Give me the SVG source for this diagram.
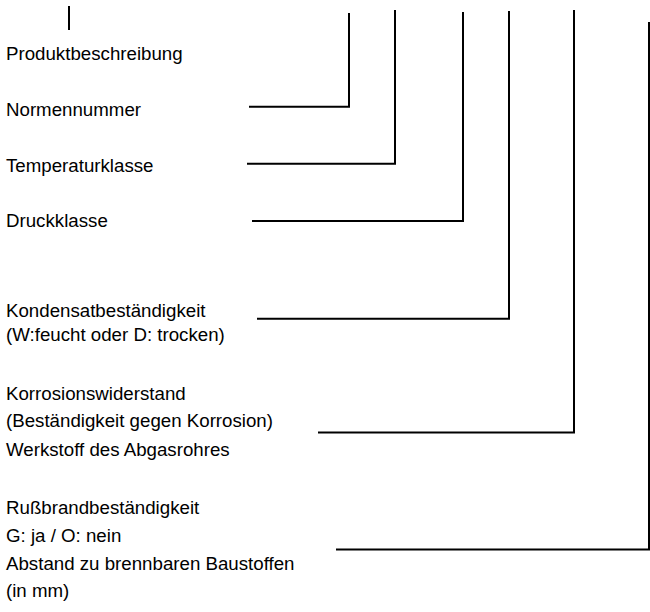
<svg xmlns="http://www.w3.org/2000/svg" width="650" height="612" viewBox="0 0 650 612">
<style>
text{font-family:"Liberation Sans",Arial,sans-serif;font-size:18.7px;fill:#000}
.c{fill:none;stroke:#000;stroke-width:2}
</style>
<rect width="650" height="612" fill="#fff"/>
<g id="connectors">
<line class="c" x1="69" y1="6" x2="69" y2="30"/>
<polyline class="c" points="249,106.7 349,106.7 349,13"/>
<polyline class="c" points="247,163.7 395,163.7 395,10"/>
<polyline class="c" points="252,221 463,221 463,12"/>
<polyline class="c" points="257,318.7 509,318.7 509,11"/>
<polyline class="c" points="318,432.5 574,432.5 574,10"/>
<polyline class="c" points="336,549.5 649,549.5 649,22"/>
</g>
<g id="produktbeschreibung"><text x="6" y="60">Produktbeschreibung</text></g>
<g id="normennummer"><text x="6" y="116">Normennummer</text></g>
<g id="temperaturklasse"><text x="6" y="172">Temperaturklasse</text></g>
<g id="druckklasse"><text x="6" y="227">Druckklasse</text></g>
<g id="kondensat">
<text x="6" y="316.7">Kondensatbeständigkeit</text>
<text x="6" y="341">(W:feucht oder D: trocken)</text>
</g>
<g id="korrosion">
<text x="6" y="400">Korrosionswiderstand</text>
<text x="6" y="427">(Beständigkeit gegen Korrosion)</text>
<text x="6" y="456">Werkstoff des Abgasrohres</text>
</g>
<g id="russbrand">
<text x="6" y="514">Rußbrandbeständigkeit</text>
<text x="6" y="542">G: ja / O: nein</text>
<text x="6" y="570">Abstand zu brennbaren Baustoffen</text>
<text x="6" y="597">(in mm)</text>
</g>
</svg>
